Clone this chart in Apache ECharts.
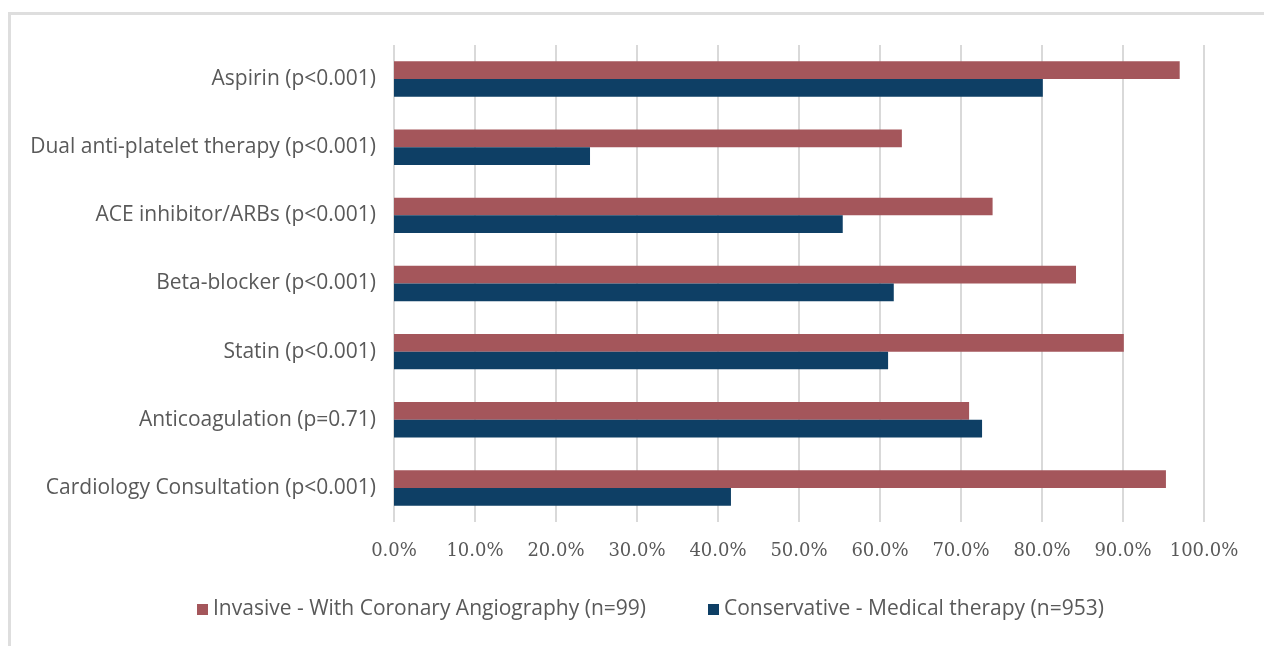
<!doctype html>
<html lang="en" style="height: 100%">

<head>
  <meta charset="utf-8" />
  <script type="text/javascript" src="https://fastly.jsdelivr.net/npm/echarts@6.0.0/dist/echarts.min.js"></script>
</head>

<body style="height: 100%; margin: 0; background: #fff">
  <div style="position: absolute; left: 8px; top: 12px; width: 1300px; height: 700px; border-left: 3px solid #dedede; border-top: 3px solid #dedede"></div>
  <div id="main" style="position: absolute; left: 0; top: 0; width: 1264px; height: 646px"></div>
  <script type="text/javascript">
    var categories = [
      'Aspirin (p<0.001)',
      'Dual anti-platelet therapy (p<0.001)',
      'ACE inhibitor/ARBs (p<0.001)',
      'Beta-blocker (p<0.001)',
      'Statin (p<0.001)',
      'Anticoagulation (p=0.71)',
      'Cardiology Consultation (p<0.001)'
    ];
    var invasive = [97.0, 62.7, 73.9, 84.2, 90.1, 71.0, 95.3];
    var conservative = [80.1, 24.2, 55.4, 61.7, 61.0, 72.6, 41.6];
    var seriesNames = [
      'Invasive - With Coronary Angiography (n=99)',
      'Conservative - Medical therapy (n=953)'
    ];

    var chartDom = document.getElementById('main');
    var myChart = echarts.init(chartDom);
    var option;

    option = {
      animation: false,
      grid: {
        left: 394,
        right: 60,
        top: 45,
        bottom: 124
      },
      legend: {
        bottom: 21,
        left: 192,
        itemWidth: 11,
        itemHeight: 11,
        itemGap: 62,
        icon: 'rect',
        textStyle: {
          fontFamily: 'Open Sans',
          fontSize: 21,
          color: '#595959'
        },
        data: seriesNames
      },
      xAxis: {
        type: 'value',
        min: 0,
        max: 100,
        interval: 10,
        axisLine: { show: false },
        axisTick: { show: false },
        splitLine: { lineStyle: { color: '#d9d9d9', width: 2 } },
        axisLabel: {
          margin: 20,
          fontFamily: 'DejaVu Serif',
          fontSize: 18,
          color: '#595959',
          formatter: function (v) { return v.toFixed(1) + '%'; }
        }
      },
      yAxis: {
        type: 'category',
        inverse: true,
        data: categories,
        axisLine: { show: false },
        axisTick: { show: false },
        axisLabel: {
          margin: 18,
          fontFamily: 'Open Sans',
          fontSize: 21,
          color: '#595959'
        }
      },
      series: [
        {
          name: seriesNames[0],
          type: 'bar',
          data: invasive,
          barGap: '0%',
          barCategoryGap: '48%',
          itemStyle: { color: '#a4565b' }
        },
        {
          name: seriesNames[1],
          type: 'bar',
          data: conservative,
          itemStyle: { color: '#0e3f65' }
        }
      ]
    };
    option && myChart.setOption(option);
  </script>
</body>

</html>
